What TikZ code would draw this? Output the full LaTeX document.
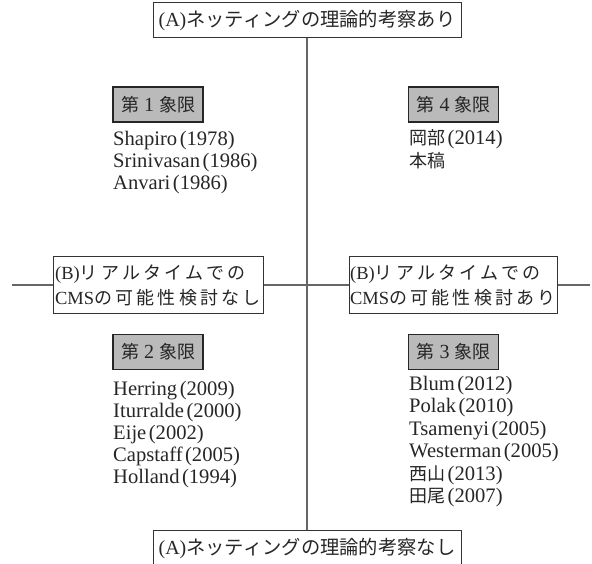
\documentclass[tikz,border=0pt]{standalone}
\usepackage{fontspec}
\setmainfont{Liberation Serif}
\newfontfamily\cjk{Noto Sans CJK JP}
\newfontfamily\cjksp[LetterSpace=18]{Noto Sans CJK JP}
\newcommand\jt[2]{{\cjk\fontsize{#1}{#1}\selectfont #2}}
\newcommand\jts[2]{{\cjksp\fontsize{#1}{#1}\selectfont #2}}
\newcommand\pk{\kern2.5pt}
\begin{document}
\begin{tikzpicture}[x=1pt,y=-1pt,
  frame/.style={draw=black!80, line width=1pt, inner sep=0pt, text=black!85},
  qlabel/.style={draw=black!85, fill=black!27, line width=1.2pt, minimum width=90pt, minimum height=35pt, inner sep=0pt, text=black!85, font=\fontsize{20}{22}\selectfont},
  entry/.style={anchor=base west, inner sep=0pt, font=\fontsize{20.6}{22}\selectfont, text=black!85},
  axis/.style={draw=black!60, line width=1.1pt}]
\useasboundingbox (0,0) rectangle (592,564);
\clip (0,0) rectangle (592,564);

% top and bottom boxes
\node[frame, minimum width=308pt, minimum height=35pt] (topA) at (307,20.5)
  {{\fontsize{20}{20}\selectfont(A)}\jt{19.3}{ネッティングの理論的考察あり}};
\node[frame, minimum width=308pt, minimum height=36pt] (botA) at (307,548)
  {{\fontsize{20}{20}\selectfont(A)}\jt{19.3}{ネッティングの理論的考察なし}};

% B boxes
\node[frame, minimum width=210pt, minimum height=56pt, align=left, font=\fontsize{18.5}{25}\selectfont] (bl) at (158,285)
  {(B)\jts{18}{リアルタイムでの}\\CMS\jts{18}{の可能性検討なし}};
\node[frame, minimum width=208pt, minimum height=56pt, align=left, font=\fontsize{18.5}{25}\selectfont] (br) at (453,285)
  {(B)\jts{18}{リアルタイムでの}\\CMS\jts{18}{の可能性検討あり}};

% axes
\coordinate (hl) at (12,285);
\coordinate (hr) at (590,285);
\draw[axis] (topA.south) -- (botA.north);
\draw[axis] (hl) -- (bl.west);
\draw[axis] (bl.east) -- (br.west);
\draw[axis] (br.east) -- (hr);

% quadrant labels
\node[qlabel] (q1) at (158,104.5) {\jt{18}{第}\hspace{5pt}1\hspace{5pt}\jt{18}{象限}};
\node[qlabel] (q4) at (453.5,104.5) {\jt{18}{第}\hspace{5pt}4\hspace{5pt}\jt{18}{象限}};
\node[qlabel] (q2) at (158,352) {\jt{18}{第}\hspace{5pt}2\hspace{5pt}\jt{18}{象限}};
\node[qlabel] (q3) at (453.5,352) {\jt{18}{第}\hspace{5pt}3\hspace{5pt}\jt{18}{象限}};

% quadrant 1
\node[entry] (q1a) at (113,146) {Shapiro\pk(1978)};
\node[entry] (q1b) at (113,168) {Srinivasan\pk(1986)};
\node[entry] (q1c) at (113,190) {Anvari\pk(1986)};

% quadrant 4
\node[entry] (q4a) at (409,145) {\jt{18}{岡部}\pk(2014)};
\node[entry] (q4b) at (409,168) {\jt{18}{本稿}};

% quadrant 2
\node[entry] (q2a) at (113,395) {Herring\pk(2009)};
\node[entry] (q2b) at (113,417) {Iturralde\pk(2000)};
\node[entry] (q2c) at (113,439) {Eije\pk(2002)};
\node[entry] (q2d) at (113,461) {Capstaff\pk(2005)};
\node[entry] (q2e) at (113,483) {Holland\pk(1994)};

% quadrant 3
\node[entry] (q3a) at (409,390) {Blum\pk(2012)};
\node[entry] (q3b) at (409,412.5) {Polak\pk(2010)};
\node[entry] (q3c) at (409,435) {Tsamenyi\pk(2005)};
\node[entry] (q3d) at (409,457.5) {Westerman\pk(2005)};
\node[entry] (q3e) at (409,480) {\jt{18}{西山}\pk(2013)};
\node[entry] (q3f) at (409,502.5) {\jt{18}{田尾}\pk(2007)};
\end{tikzpicture}
\end{document}
